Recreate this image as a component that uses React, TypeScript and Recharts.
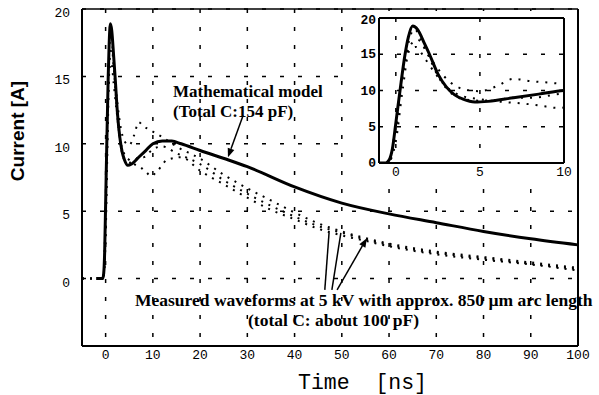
import React from "react";
import { LineChart, Line, XAxis, YAxis, CartesianGrid, ReferenceLine } from "recharts";

// ---- data ----
const modelT = [-2, -0.6, -0.4, -0.2, 0, 0.25, 0.55, 0.75, 1.0, 1.3, 1.7, 2.0, 2.5, 3.0, 3.5, 4.0, 4.7, 5.5, 7, 8.5, 10, 12, 14, 16, 20, 26, 30, 40, 50, 60, 70, 80, 90, 100];
const modelV = [0, 0, 0.4, 2, 5.5, 10, 15, 17.4, 18.9, 18.4, 16.5, 15, 12.3, 10.5, 9.4, 8.8, 8.4, 8.5, 9.0, 9.5, 10.0, 10.2, 10.2, 10.0, 9.5, 8.8, 8.3, 6.8, 5.6, 4.8, 4.15, 3.5, 2.95, 2.5];

const meas1T = [-5, -0.5, 0, 0.4, 0.8, 1.3, 1.9, 2.5, 3.2, 4, 5, 6, 7, 8, 9, 10, 12, 15, 20, 25, 30, 35, 40, 45, 50, 55, 60, 70, 80, 90, 100];
const meas1V = [0, 0, 4, 12, 16, 17, 15, 13, 11.2, 10.2, 9.9, 10.6, 11.6, 11.3, 11.1, 10.9, 10.5, 9.8, 8.9, 7.7, 6.7, 5.8, 4.9, 4.1, 3.5, 3.0, 2.6, 2.0, 1.6, 1.2, 0.8];

const meas2T = [-5, -0.5, 0, 0.4, 0.8, 1.1, 1.5, 2, 2.5, 3, 3.5, 4, 5, 6, 7, 8, 10, 12, 15, 20, 25, 30, 35, 40, 45, 50, 55, 60, 70, 80, 90, 100];
const meas2V = [0, 0, 5, 12, 17, 18.5, 17, 14.5, 12, 10.3, 9.3, 8.8, 8.6, 8.7, 9.0, 9.0, 9.6, 9.8, 9.3, 8.5, 7.3, 6.3, 5.4, 4.6, 3.9, 3.4, 2.9, 2.5, 1.9, 1.5, 1.1, 0.7];

const meas3T = [-5, -0.5, 0, 0.4, 0.8, 1.2, 1.7, 2.3, 3, 4, 5, 5.6, 6.5, 7.6, 8.6, 9.6, 11, 13, 16, 20, 25, 30, 35, 40, 45, 50, 55, 60, 70, 80, 90, 100];
const meas3V = [0, 0, 3, 10, 15.5, 16, 14.5, 12.5, 10.5, 9.2, 8.8, 8.6, 8.4, 8.2, 7.9, 7.6, 8.0, 8.8, 9.0, 8.0, 7.0, 6.0, 5.1, 4.4, 3.7, 3.2, 2.8, 2.4, 1.8, 1.4, 1.05, 0.6];

const xTicks = [0, 10, 20, 30, 40, 50, 60, 70, 80, 90, 100];
const yTicks = [0, 5, 10, 15, 20];
const insetXTicks = [0, 5, 10];
const insetYTicks = [0, 5, 10, 15, 20];

const build = (ts: number[], vs: number[]) => ts.map((t, i) => ({ t, v: vs[i] }));
const model = build(modelT, modelV);
const meas1 = build(meas1T, meas1V);
const meas2 = build(meas2T, meas2V);
const meas3 = build(meas3T, meas3V);
const measured = [meas1, meas2, meas3];

const MONO = "'Liberation Mono', 'DejaVu Sans Mono', monospace";
const SERIF = "'Liberation Serif', 'DejaVu Serif', serif";

const XTick = (p: any) => (
  <text x={p.x} y={p.y + 11} textAnchor="middle" fontFamily={MONO} fontSize={13} fill="#000">
    {p.payload.value}
  </text>
);
const YTick = (p: any) => (
  <text x={p.x} y={p.y + 8} textAnchor="end" fontFamily={MONO} fontSize={13} fill="#000">
    {p.payload.value}
  </text>
);
const InsetYTick = (p: any) => (
  <text x={p.x} y={p.y + 4} textAnchor="end" fontFamily={MONO} fontSize={13} fontWeight="bold" fill="#000">
    {p.payload.value}
  </text>
);

const Plain = (p: any) => (
  <line x1={p.x1} y1={p.y1} x2={p.x2} y2={p.y2} stroke="#000" strokeWidth={1.5} />
);
const Arrow = (p: any) => {
  const { x1, y1, x2, y2 } = p;
  const a = Math.atan2(y2 - y1, x2 - x1);
  const L = 9, W = 3.5;
  const bx = x2 - L * Math.cos(a), by = y2 - L * Math.sin(a);
  const pts = `${x2},${y2} ${bx + W * Math.sin(a)},${by - W * Math.cos(a)} ${bx - W * Math.sin(a)},${by + W * Math.cos(a)}`;
  return (
    <g>
      <line x1={x1} y1={y1} x2={bx} y2={by} stroke="#000" strokeWidth={1.5} />
      <polygon points={pts} fill="#000" />
    </g>
  );
};

export default function App() {
  return (
    <div style={{ position: "absolute", left: 0, top: 0, width: 599, height: 395, background: "#fff" }}>
      <div style={{ position: "absolute", left: 0, top: 0 }}>
        <LineChart width={599} height={395} margin={{ top: 9, right: 21, bottom: 19, left: 0 }}>
          <CartesianGrid stroke="#000" strokeDasharray="4 14" strokeWidth={1.5} />
          <XAxis type="number" dataKey="t" domain={[-5, 100]} ticks={xTicks} allowDataOverflow height={30}
            axisLine={{ stroke: "#000", strokeWidth: 2 }} tickLine={false} tickSize={0} tick={<XTick />} />
          <YAxis type="number" domain={[-5, 20]} ticks={yTicks} width={82} allowDataOverflow
            axisLine={{ stroke: "#000", strokeWidth: 2 }} tickLine={false} tickSize={0} tickMargin={12} tick={<YTick />} />
          <ReferenceLine x={100} stroke="#000" strokeWidth={2} />
          <ReferenceLine y={20} stroke="#000" strokeWidth={1.5} />
          {measured.map((d, i) => (
            <Line key={i} data={d} dataKey="v" type="monotone" stroke="#000" strokeWidth={2}
              strokeDasharray="2 6" dot={false} isAnimationActive={false} />
          ))}
          <Line data={model} dataKey="v" type="monotone" stroke="#000" strokeWidth={3} dot={false} isAnimationActive={false} />
          <ReferenceLine segment={[{ x: 29.1, y: 12.1 }, { x: 25.9, y: 9.0 }]} shape={Arrow} />
          <ReferenceLine segment={[{ x: 46.4, y: -0.84 }, { x: 47.3, y: 3.4 }]} shape={Plain} />
          <ReferenceLine segment={[{ x: 47.9, y: -0.84 }, { x: 49.8, y: 3.4 }]} shape={Plain} />
          <ReferenceLine segment={[{ x: 49.0, y: -0.84 }, { x: 55.3, y: 3.0 }]} shape={Arrow} />
        </LineChart>
      </div>

      <div style={{ position: "absolute", left: 345, top: 11, width: 230, height: 175, background: "#fff" }}>
        <LineChart width={230} height={175} margin={{ top: 7, right: 11, bottom: 3, left: 0 }}>
          <CartesianGrid stroke="#000" strokeDasharray="4 14" strokeWidth={1.5} />
          <XAxis type="number" dataKey="t" domain={[-1, 10]} ticks={insetXTicks} allowDataOverflow height={20}
            axisLine={{ stroke: "#000", strokeWidth: 2 }} tickLine={false} tickSize={0} tick={<XTick />} />
          <YAxis type="number" domain={[0, 20]} ticks={insetYTicks} width={34} allowDataOverflow
            axisLine={{ stroke: "#000", strokeWidth: 2 }} tickLine={false} tickSize={0} tickMargin={3} tick={<InsetYTick />} />
          <ReferenceLine x={10} stroke="#000" strokeWidth={2} />
          <ReferenceLine y={20} stroke="#000" strokeWidth={2} />
          {measured.map((d, i) => (
            <Line key={i} data={d} dataKey="v" type="monotone" stroke="#000" strokeWidth={2}
              strokeDasharray="2 7" dot={false} isAnimationActive={false} />
          ))}
          <Line data={model} dataKey="v" type="monotone" stroke="#000" strokeWidth={3} dot={false} isAnimationActive={false} />
        </LineChart>
      </div>

      <svg width={599} height={395} style={{ position: "absolute", left: 0, top: 0, pointerEvents: "none" }}>
        <text transform="translate(24,131) rotate(-90)" textAnchor="middle" fontFamily="'Liberation Sans', Arial, sans-serif"
          fontWeight="bold" fontSize={19} fill="#000">Current [A]</text>
        <text x={298} y={389} fontFamily={MONO} fontSize={21.5} fill="#000" style={{ whiteSpace: "pre" }}>{"Time  [ns]"}</text>
        <text x={173} y={97} fontFamily={SERIF} fontWeight="bold" fontSize={17} fill="#000">Mathematical model</text>
        <text x={173} y={117} fontFamily={SERIF} fontWeight="bold" fontSize={17} fill="#000">(Total C:154 pF)</text>
        <text x={135} y={306} fontFamily={SERIF} fontWeight="bold" fontSize={17.5} fill="#000">Measured waveforms at 5 kV with approx. 850 µm arc length</text>
        <text x={248} y={326} fontFamily={SERIF} fontWeight="bold" fontSize={17.5} fill="#000">(total C: about 100 pF)</text>
      </svg>
    </div>
  );
}
